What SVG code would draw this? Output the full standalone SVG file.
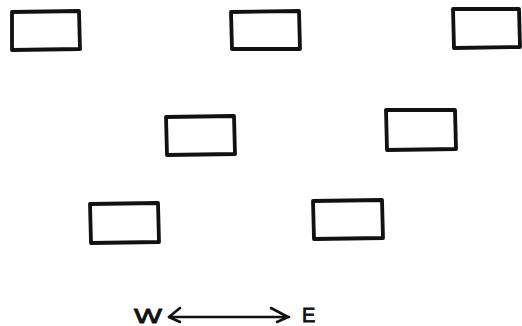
<svg xmlns="http://www.w3.org/2000/svg" width="522" height="326" viewBox="0 0 522 326">
<style>
.box{fill:none;stroke:#111;stroke-width:3.8;stroke-linejoin:round}
.ln{fill:none;stroke:#111;stroke-width:2.6;stroke-linecap:round;stroke-linejoin:round}
.lbl{font-family:"Liberation Sans",Arial,sans-serif;font-size:20px;fill:#111;stroke:#111;stroke-width:0.8}
</style>
<rect width="522" height="326" fill="#fff"/>
<g id="b1"><path class="box" d="M12,12 L79,11 L80,49 L12,50 Z"/></g>
<g id="b2"><path class="box" d="M231,12 L299,11 L300,49 L232,49 Z"/></g>
<g id="b3"><path class="box" d="M453,9 L519,9 L520,47 L454,48 Z"/></g>
<g id="b4"><path class="box" d="M166,117 L234,116 L235,154 L167,155 Z"/></g>
<g id="b5"><path class="box" d="M386,110 L455,110 L456,149 L387,150 Z"/></g>
<g id="b6"><path class="box" d="M90,204 L158,203 L159,242 L91,243 Z"/></g>
<g id="b7"><path class="box" d="M313,201 L382,200 L383,238 L314,239 Z"/></g>
<g id="compass">
<text class="lbl" x="134" y="323" textLength="28" lengthAdjust="spacingAndGlyphs">W</text>
<path class="ln" d="M169,317 L289,317"/>
<path class="ln" d="M180,308 L169,317 L180,322"/>
<path class="ln" d="M271,308 L288,317 L277,322"/>
<text class="lbl" x="302" y="322">E</text>
</g>
</svg>
